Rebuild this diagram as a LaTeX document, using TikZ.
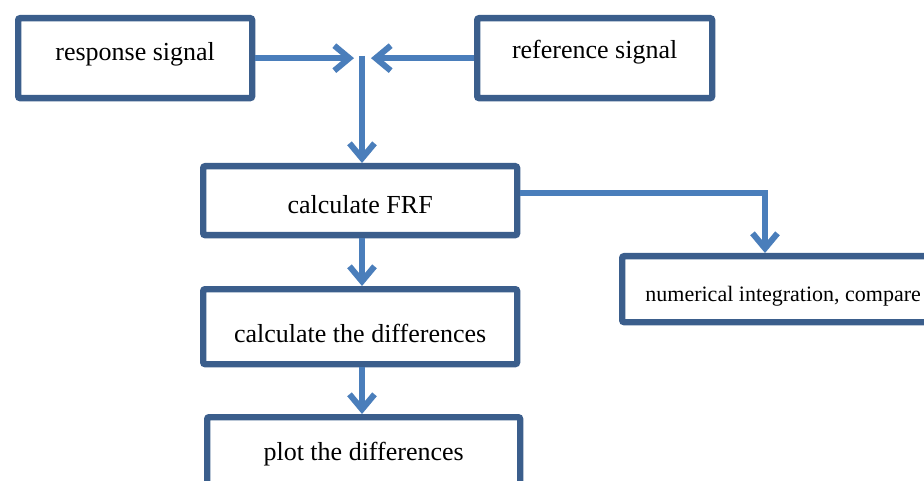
\documentclass[tikz,border=0pt]{standalone}
\usepackage{fontspec}
\setmainfont{Liberation Serif}
\usetikzlibrary{arrows.meta}
\definecolor{boxc}{HTML}{3B5E8C}
\definecolor{arrc}{HTML}{4A7EBB}
\begin{document}
\begin{tikzpicture}[x=1pt,y=-1pt,
  box/.style={draw=boxc, line width=6.3pt, rounded corners=2pt, inner sep=0pt,
    anchor=north west, fill=white, font=\fontsize{26}{30}\selectfont},
  conn/.style={draw=arrc, line width=6pt, -{Straight Barb[length=15pt,width=25pt]}}]
\useasboundingbox (0,0) rectangle (924,481);
\clip (0,0) rectangle (924,481);
\node[box, minimum width=234pt, text height=42pt, text depth=38pt] (resp) at (15,15) {response signal};
\node[box, minimum width=235pt, text height=40pt, text depth=40pt] (ref) at (474,15) {reference signal};
\node[box, minimum width=314pt, text height=47pt, text depth=22pt] (frf) at (200,163) {calculate FRF};
\node[box, minimum width=314pt, text height=53pt, text depth=22pt] (diff) at (200,286) {calculate the differences};
\node[box, minimum width=313pt, text height=43pt, text depth=40pt] (plot) at (204,414) {plot the differences};
\node[box, minimum width=322pt, text height=45pt, text depth=21pt, font=\fontsize{22}{26}\selectfont] (num) at (619,253) {numerical integration, compare};
\coordinate (j) at (362,56);
\coordinate (jl) at (354,54);
\coordinate (jr) at (371,54);
\coordinate (k) at (765,0);
\draw[conn] (resp.east) -- (resp.east -| jl);
\draw[conn] (ref.west) -- (ref.west -| jr);
\draw[conn] (j) -- (j |- frf.north);
\draw[conn] (frf.south -| j) -- (diff.north -| j);
\draw[conn] (diff.south -| j) -- (plot.north -| j);
\draw[conn] ([yshift=8pt]frf.east) -| (k |- num.north);
\end{tikzpicture}
\end{document}
